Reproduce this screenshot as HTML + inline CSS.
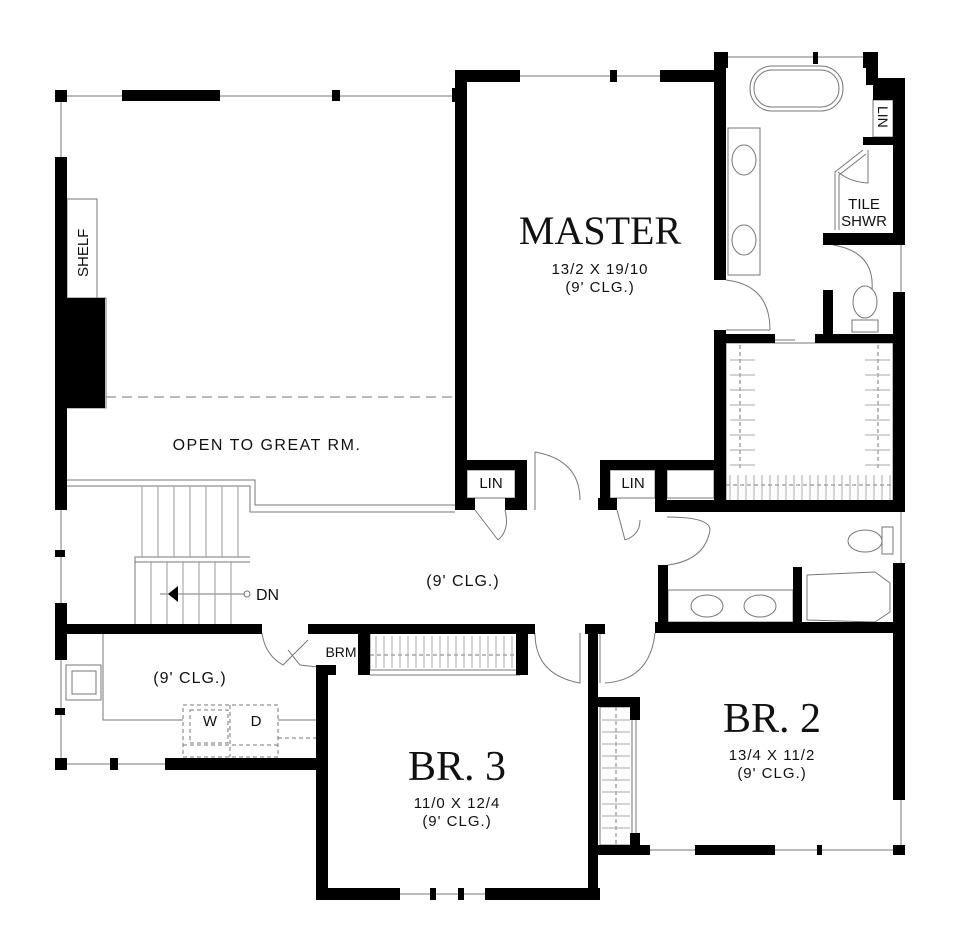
<!DOCTYPE html>
<html><head><meta charset="utf-8"><style>
html,body{margin:0;padding:0;background:#fff;width:966px;height:950px;overflow:hidden}
svg{display:block}
.t{font-family:"Liberation Sans",sans-serif;fill:#111}
.s{font-family:"Liberation Serif",serif;fill:#111}
</style></head><body>
<svg width="966" height="950" viewBox="0 0 966 950" xmlns="http://www.w3.org/2000/svg">
<g stroke="#777" stroke-width="1" fill="none">
 <line x1="61" y1="96" x2="458" y2="96"/>
 <line x1="61" y1="96" x2="61" y2="160"/>
 <line x1="61" y1="505" x2="61" y2="765"/>
 <line x1="61" y1="764" x2="316" y2="764"/>
 <line x1="520" y1="76" x2="714" y2="76"/>
 <line x1="728" y1="57" x2="866" y2="57"/>
 <line x1="901" y1="245" x2="901" y2="292"/>
 <line x1="901" y1="512" x2="901" y2="565"/>
 <line x1="901" y1="800" x2="901" y2="850"/>
 <line x1="640" y1="850" x2="901" y2="850"/>
 <line x1="400" y1="894" x2="485" y2="894"/>
 <rect x="67" y="199" width="30" height="99"/>
 <rect x="67" y="298" width="39" height="110"/>
 <line x1="106" y1="397" x2="455" y2="397" stroke-dasharray="10 6"/>
 <polyline points="67,480 255,480 255,505 455,505"/>
 <polyline points="67,486 250,486 250,512 455,512"/>
 <polyline points="135,625 135,557 250,557"/>
 <line x1="135" y1="562" x2="250" y2="562"/>
 <rect x="750" y="66" width="93" height="45" rx="22"/>
 <rect x="754" y="70" width="85" height="37" rx="18"/>
 <rect x="728" y="128" width="32" height="147"/>
 <ellipse cx="744" cy="160" rx="12" ry="15"/>
 <ellipse cx="744" cy="240" rx="12" ry="15"/>
 <polyline points="863,150 835,172 835,230"/>
 <polyline points="866,154 839,175 839,230"/>
 <path d="M868,150 L868,183 Q850,182 838,172"/>
 <ellipse cx="865" cy="302" rx="12" ry="16"/>
 <rect x="852" y="320" width="26" height="12"/>
 <path d="M833,245 Q875,252 872,290" />
 <path d="M726,280 Q770,285 770,330"/>
 <line x1="770" y1="330" x2="726" y2="330"/>
 <line x1="775" y1="340" x2="795" y2="340"/>
 <rect x="726" y="343" width="167" height="159"/>
 <line x1="740" y1="345" x2="740" y2="470" stroke-dasharray="4 3"/>
 <line x1="878" y1="345" x2="878" y2="470" stroke-dasharray="4 3"/>
 <line x1="726" y1="485" x2="893" y2="485" stroke-dasharray="4 3"/>
 <rect x="467" y="470" width="48" height="28"/>
 <rect x="610" y="470" width="45" height="28"/>
 <rect x="667" y="470" width="47" height="28"/>
 <rect x="873" y="100" width="20" height="37"/>
 <path d="M535,452 Q580,460 580,500"/>
 <line x1="535" y1="452" x2="535" y2="510"/>
 <path d="M475,510 L498,540 M505,510 Q510,530 498,540"/>
 <path d="M617,510 L625,540 M640,520 Q640,535 625,540"/>
 <path d="M667,517 Q710,517 710,530 Q705,560 668,565"/>
 <ellipse cx="865" cy="541" rx="17" ry="11"/>
 <rect x="882" y="527" width="11" height="27"/>
 <rect x="668" y="590" width="125" height="32"/>
 <ellipse cx="707" cy="606" rx="16" ry="11"/>
 <ellipse cx="760" cy="606" rx="16" ry="11"/>
 <polygon points="807,575 875,572 890,583 890,612 875,622 807,620"/>
 <path d="M535,633 Q535,675 580,683 L580,633"/>
 <path d="M605,683 Q650,680 655,633"/>
 <line x1="600" y1="633" x2="600" y2="683"/>
 <path d="M262,633 Q265,655 283,665 L308,640"/>
 <path d="M288,650 L300,665 L318,667"/>
 <rect x="370" y="633" width="150" height="37"/>
 <line x1="370" y1="655" x2="520" y2="655" stroke-dasharray="4 3"/>
 <line x1="370" y1="675" x2="520" y2="675"/>
 <rect x="600" y="707" width="32" height="138"/>
 <line x1="616" y1="707" x2="616" y2="845" stroke-dasharray="4 3"/>
 <line x1="636" y1="720" x2="636" y2="835"/>
 <polyline points="103,633 103,720 183,720"/>
 <polyline points="278,720 316,720"/>
 <rect x="66" y="665" width="35" height="35"/>
 <rect x="72" y="671" width="24" height="23"/>
 <g stroke-dasharray="4 3">
  <rect x="183" y="705" width="95" height="52"/>
  <rect x="190" y="710" width="38" height="33"/>
  <line x1="230" y1="705" x2="230" y2="757"/>
  <line x1="278" y1="738" x2="316" y2="738"/>
  <line x1="183" y1="745" x2="278" y2="745"/>
 </g>
 <line x1="160" y1="594" x2="245" y2="594"/>
 <circle cx="247" cy="594" r="3"/>
</g>
<g stroke="#999" stroke-width="1">
 <line x1="142" y1="486" x2="142" y2="557"/><line x1="158" y1="486" x2="158" y2="557"/><line x1="174" y1="486" x2="174" y2="557"/><line x1="190" y1="486" x2="190" y2="557"/><line x1="206" y1="486" x2="206" y2="557"/><line x1="222" y1="486" x2="222" y2="557"/><line x1="238" y1="486" x2="238" y2="557"/>
 <line x1="151" y1="562" x2="151" y2="625"/><line x1="167" y1="562" x2="167" y2="625"/><line x1="183" y1="562" x2="183" y2="625"/><line x1="199" y1="562" x2="199" y2="625"/><line x1="215" y1="562" x2="215" y2="625"/><line x1="231" y1="562" x2="231" y2="625"/>
 <g stroke="#aaa">
 <line x1="730" y1="360" x2="755" y2="360"/><line x1="730" y1="375" x2="755" y2="375"/><line x1="730" y1="390" x2="755" y2="390"/><line x1="730" y1="405" x2="755" y2="405"/><line x1="730" y1="420" x2="755" y2="420"/><line x1="730" y1="435" x2="755" y2="435"/><line x1="730" y1="450" x2="755" y2="450"/><line x1="730" y1="465" x2="755" y2="465"/>
 <line x1="865" y1="360" x2="890" y2="360"/><line x1="865" y1="375" x2="890" y2="375"/><line x1="865" y1="390" x2="890" y2="390"/><line x1="865" y1="405" x2="890" y2="405"/><line x1="865" y1="420" x2="890" y2="420"/><line x1="865" y1="435" x2="890" y2="435"/><line x1="865" y1="450" x2="890" y2="450"/><line x1="865" y1="465" x2="890" y2="465"/>
 </g>
</g>
<path d="M730,475 L730,500 M738,475 L738,500 M746,475 L746,500 M754,475 L754,500 M762,475 L762,500 M770,475 L770,500 M778,475 L778,500 M786,475 L786,500 M794,475 L794,500 M802,475 L802,500 M810,475 L810,500 M818,475 L818,500 M826,475 L826,500 M834,475 L834,500 M842,475 L842,500 M850,475 L850,500 M858,475 L858,500 M866,475 L866,500 M874,475 L874,500 M882,475 L882,500 M890,475 L890,500" stroke="#aaa"/>
<path d="M376,636 L376,668 M384,636 L384,668 M392,636 L392,668 M400,636 L400,668 M408,636 L408,668 M416,636 L416,668 M424,636 L424,668 M432,636 L432,668 M440,636 L440,668 M448,636 L448,668 M456,636 L456,668 M464,636 L464,668 M472,636 L472,668 M480,636 L480,668 M488,636 L488,668 M496,636 L496,668 M504,636 L504,668 M512,636 L512,668" stroke="#aaa"/>
<path d="M602,720 L630,720 M602,732 L630,732 M602,744 L630,744 M602,756 L630,756 M602,768 L630,768 M602,780 L630,780 M602,792 L630,792 M602,804 L630,804 M602,816 L630,816 M602,828 L630,828" stroke="#aaa"/>
<g fill="#000">
 <rect x="55" y="90" width="12" height="12"/>
 <rect x="122" y="90" width="98" height="11"/>
 <rect x="332" y="90" width="8" height="11"/>
 <rect x="452" y="88" width="8" height="14"/>
 <rect x="55" y="157" width="12" height="353"/>
 <rect x="67" y="298" width="38" height="110"/>
 <rect x="55" y="550" width="10" height="7"/>
 <rect x="55" y="603" width="12" height="57"/>
 <rect x="55" y="708" width="10" height="7"/>
 <rect x="55" y="758" width="12" height="12"/>
 <rect x="110" y="758" width="8" height="12"/>
 <rect x="165" y="758" width="155" height="12"/>
 <rect x="455" y="70" width="12" height="440"/>
 <rect x="455" y="70" width="65" height="12"/>
 <rect x="610" y="70" width="7" height="12"/>
 <rect x="660" y="70" width="66" height="12"/>
 <rect x="714" y="52" width="12" height="228"/>
 <rect x="714" y="52" width="14" height="16"/>
 <rect x="813" y="52" width="5" height="12"/>
 <rect x="863" y="52" width="15" height="16"/>
 <polygon points="866,68 878,68 878,78 905,78 905,100 873,100 873,85 866,85"/>
 <rect x="893" y="78" width="12" height="167"/>
 <rect x="863" y="137" width="42" height="8"/>
 <rect x="823" y="233" width="82" height="12"/>
 <rect x="893" y="292" width="12" height="220"/>
 <rect x="823" y="290" width="10" height="50"/>
 <rect x="815" y="334" width="90" height="9"/>
 <rect x="714" y="330" width="12" height="180"/>
 <rect x="714" y="334" width="61" height="9"/>
 <rect x="455" y="460" width="72" height="10"/>
 <rect x="515" y="460" width="12" height="50"/>
 <rect x="455" y="498" width="20" height="12"/>
 <rect x="505" y="498" width="22" height="12"/>
 <rect x="600" y="460" width="120" height="10"/>
 <rect x="600" y="460" width="10" height="50"/>
 <rect x="655" y="460" width="12" height="50"/>
 <rect x="598" y="498" width="19" height="12"/>
 <rect x="655" y="500" width="250" height="12"/>
 <rect x="658" y="565" width="10" height="68"/>
 <rect x="793" y="567" width="9" height="60"/>
 <rect x="893" y="563" width="12" height="237"/>
 <rect x="655" y="622" width="250" height="11"/>
 <rect x="893" y="845" width="12" height="10"/>
 <rect x="695" y="845" width="80" height="10"/>
 <rect x="817" y="845" width="5" height="10"/>
 <rect x="55" y="624" width="207" height="10"/>
 <rect x="308" y="624" width="227" height="10"/>
 <rect x="585" y="624" width="20" height="10"/>
 <rect x="316" y="665" width="12" height="235"/>
 <rect x="316" y="665" width="20" height="10"/>
 <rect x="358" y="633" width="12" height="42"/>
 <rect x="516" y="633" width="12" height="42"/>
 <rect x="316" y="888" width="84" height="12"/>
 <rect x="430" y="888" width="6" height="12"/>
 <rect x="458" y="888" width="6" height="12"/>
 <rect x="485" y="888" width="115" height="12"/>
 <rect x="588" y="624" width="10" height="276"/>
 <rect x="597" y="697" width="43" height="10"/>
 <rect x="630" y="697" width="10" height="23"/>
 <rect x="630" y="833" width="10" height="22"/>
 <rect x="597" y="845" width="53" height="10"/>
 <polygon points="168,594 178,586 178,602"/>
</g>
<text class="s" x="600" y="244" font-size="40" text-anchor="middle">MASTER</text>
<text class="t" x="600" y="274" font-size="15" text-anchor="middle" letter-spacing="1">13/2  X  19/10</text>
<text class="t" x="600" y="292" font-size="15" text-anchor="middle" letter-spacing="1">(9'  CLG.)</text>
<text class="t" x="267" y="450" font-size="16" text-anchor="middle" letter-spacing="1.5">OPEN  TO  GREAT  RM.</text>
<text class="t" font-size="15" transform="translate(88,277) rotate(-90)">SHELF</text>
<text class="t" x="491" y="488" font-size="15" text-anchor="middle">LIN</text>
<text class="t" x="633" y="488" font-size="15" text-anchor="middle">LIN</text>
<text class="t" font-size="14" transform="translate(878,106) rotate(90)">LIN</text>
<text class="t" x="864" y="209" font-size="15" text-anchor="middle">TILE</text>
<text class="t" x="864" y="226" font-size="15" text-anchor="middle">SHWR</text>
<text class="t" x="463" y="586" font-size="16" text-anchor="middle" letter-spacing="1">(9'  CLG.)</text>
<text class="t" x="256" y="600" font-size="16">DN</text>
<text class="t" x="190" y="683" font-size="16" text-anchor="middle" letter-spacing="1">(9'  CLG.)</text>
<text class="t" x="210" y="726" font-size="15" text-anchor="middle">W</text>
<text class="t" x="256" y="726" font-size="15" text-anchor="middle">D</text>
<text class="t" x="341" y="657" font-size="14" text-anchor="middle">BRM</text>
<text class="s" x="457" y="780" font-size="42" text-anchor="middle">BR. 3</text>
<text class="t" x="457" y="808" font-size="15" text-anchor="middle" letter-spacing="1">11/0  X  12/4</text>
<text class="t" x="457" y="826" font-size="15" text-anchor="middle" letter-spacing="1">(9'  CLG.)</text>
<text class="s" x="772" y="732" font-size="42" text-anchor="middle">BR. 2</text>
<text class="t" x="772" y="760" font-size="15" text-anchor="middle" letter-spacing="1">13/4  X  11/2</text>
<text class="t" x="772" y="778" font-size="15" text-anchor="middle" letter-spacing="1">(9'  CLG.)</text>
</svg>
</body></html>
